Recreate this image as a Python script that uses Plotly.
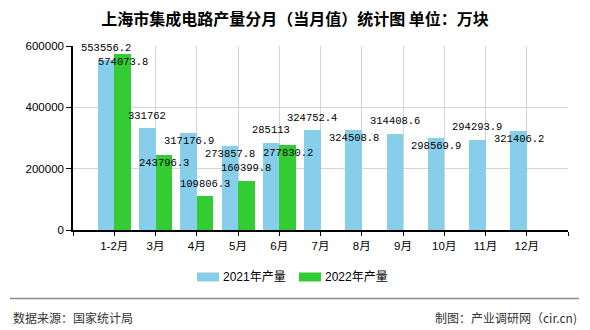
import plotly.graph_objects as go

categories = ["1-2月", "3月", "4月", "5月", "6月", "7月", "8月", "9月", "10月", "11月", "12月"]
values_2021 = [553556.2, 331762, 317176.9, 273857.8, 285113, 324752.4, 324508.8, 314408.6, 298569.9, 294293.9, 321406.2]
values_2022 = [574073.8, 243796.3, 109806.3, 160399.8, 277830.2]
series_names = ["2021年产量", "2022年产量"]
y_ticks = [0, 200000, 400000, 600000]

# label placement (style): "above" the bar top, or "inside" just below it
place_2021 = ["above", "above", "inside", "inside", "above", "above", "inside", "above", "inside", "above", "inside"]
place_2022 = ["inside", "inside", "above", "above", "inside"]

C2021 = "#87CEEB"
C2022 = "#33CC33"

W, H = 590, 330
L, R, T, B = 73, 22, 46, 100
PW, PH = W - L - R, H - T - B

def px(x):
    return (x - L) / PW

def py(y):
    return (H - B - y) / PH

def fmt(v):
    s = f"{v:.1f}"
    return s[:-2] if s.endswith(".0") else s

xpos = list(range(1, len(categories) + 1))
y2022 = values_2022 + [None] * (len(categories) - len(values_2022))

fig = go.Figure()
fig.add_trace(go.Bar(x=xpos, y=values_2021, name=series_names[0], marker_color=C2021,
                     marker_line_width=0, width=0.4, offset=-0.4, showlegend=False))
fig.add_trace(go.Bar(x=xpos, y=y2022, name=series_names[1], marker_color=C2022,
                     marker_line_width=0, width=0.4, offset=0.0, showlegend=False))

label_font = dict(family="Liberation Mono, DejaVu Sans Mono, monospace", size=10.5, color="#000")
shift = {"above": 12.5, "inside": -8}
for i, v in enumerate(values_2021):
    fig.add_annotation(x=xpos[i] - 0.2, y=v, text=fmt(v), showarrow=False, xref="x", yref="y",
                       xanchor="center", yanchor="middle", yshift=shift[place_2021[i]], font=label_font)
for i, v in enumerate(values_2022):
    fig.add_annotation(x=xpos[i] + 0.2, y=v, text=fmt(v), showarrow=False, xref="x", yref="y",
                       xanchor="center", yanchor="middle", yshift=shift[place_2022[i]], font=label_font)

tick_font = dict(family="Liberation Sans, Noto Sans CJK SC, sans-serif", size=11.5, color="#000")

fig.update_xaxes(range=[0, len(categories) + 1], tickmode="array",
                 tickvals=list(range(0, len(categories) + 2)),
                 ticktext=[""] + categories + [""],
                 showgrid=True, gridcolor="#d4d4d4", gridwidth=1,
                 showline=True, linecolor="#000", linewidth=1.5,
                 ticks="outside", ticklen=4, tickcolor="#000", tickwidth=1,
                 tickfont=tick_font, zeroline=False, fixedrange=True)
fig.update_yaxes(range=[0, 600000], tickmode="array", tickvals=y_ticks,
                 ticktext=[str(t) for t in y_ticks],
                 showgrid=True, gridcolor="#d4d4d4", gridwidth=1,
                 showline=True, linecolor="#000", linewidth=1.5,
                 ticks="outside", ticklen=5, tickcolor="#000", tickwidth=1,
                 tickfont=tick_font, zeroline=False, fixedrange=True)

# legend (drawn manually to match the wide swatches)
legend_font = dict(family="Liberation Sans, Noto Sans CJK SC, sans-serif", size=12, color="#000")
for (x0, x1, col, name) in [(197, 219, C2021, series_names[0]), (299, 321, C2022, series_names[1])]:
    fig.add_shape(type="rect", xref="paper", yref="paper", x0=px(x0), x1=px(x1), y0=py(281.5), y1=py(272.5),
                  fillcolor=col, line_width=0, layer="above")
    fig.add_annotation(x=px(x1 + 2), y=py(277), xref="paper", yref="paper", text=name, showarrow=False,
                       xanchor="left", yanchor="middle", font=legend_font)

# footer
fig.add_shape(type="line", xref="paper", yref="paper", x0=px(10), x1=px(579), y0=py(298.5), y1=py(298.5),
              line=dict(color="#8c8c8c", width=1.5))
foot_font = dict(family="Noto Sans CJK SC, sans-serif", size=12, color="#333")
fig.add_annotation(x=px(11), y=py(317), xref="paper", yref="paper", text="数据来源：国家统计局",
                   showarrow=False, xanchor="left", yanchor="middle", font=foot_font)
fig.add_annotation(x=px(579), y=py(317), xref="paper", yref="paper", text="制图：产业调研网（cir.cn)",
                   showarrow=False, xanchor="right", yanchor="middle", font=foot_font)

fig.update_layout(
    width=W, height=H, margin=dict(l=L, r=R, t=T, b=B),
    paper_bgcolor="#fff", plot_bgcolor="#fff",
    title=dict(text="<b>上海市集成电路产量分月（当月值）统计图 单位：万块</b>", xref="container", x=0.5,
               xanchor="center", yref="container", y=1 - 19 / H, yanchor="middle",
               font=dict(family="Noto Sans CJK SC, sans-serif", size=16, color="#000")),
    showlegend=False, bargap=0, barmode="overlay",
)

fig.write_html("out.html", config={"displayModeBar": False})
